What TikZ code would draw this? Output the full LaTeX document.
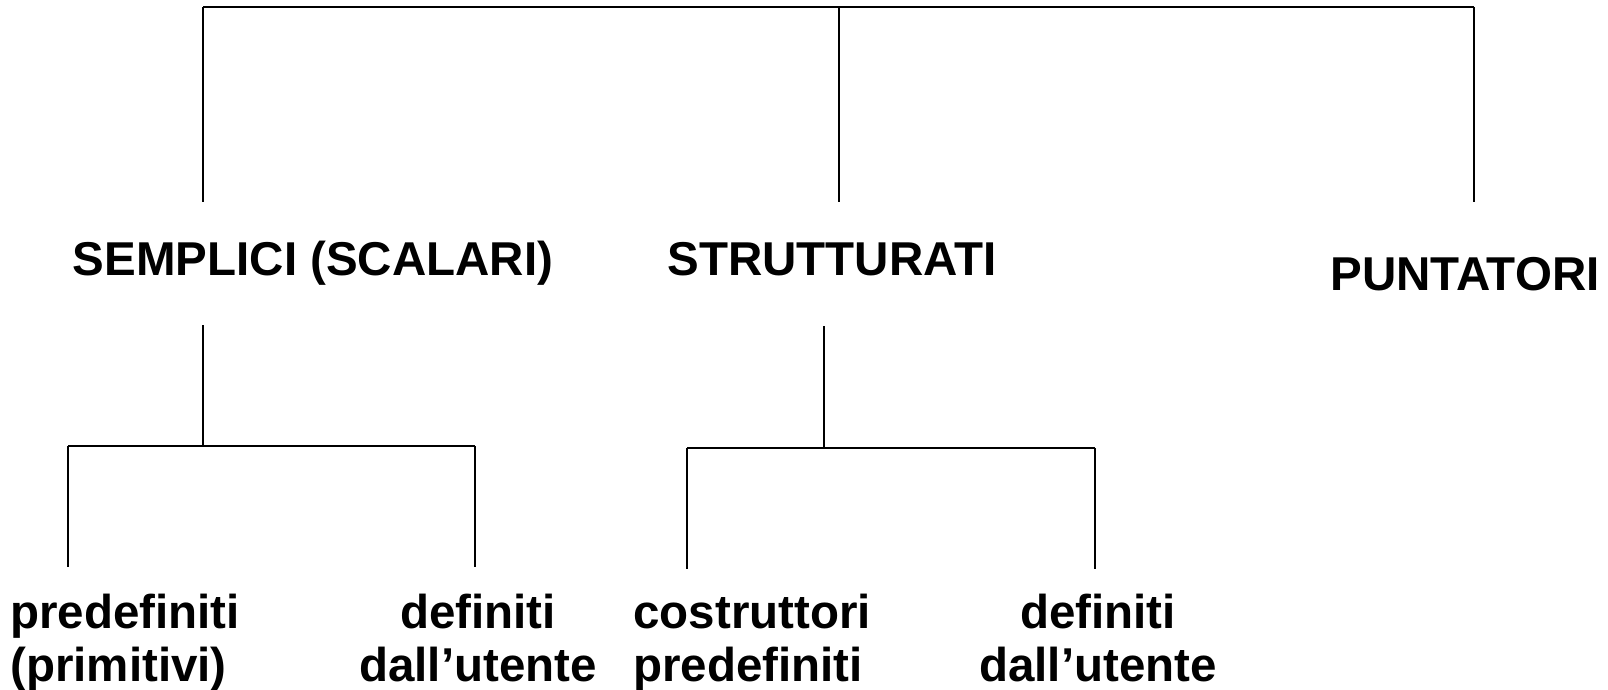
\documentclass[tikz,border=0pt]{standalone}
\usepackage{fontspec}
\setmainfont{Liberation Sans}
\usetikzlibrary{positioning}

\begin{document}
\begin{tikzpicture}[x=0.5pt,y=-0.5pt,
    label/.style={font=\bfseries\fontsize{23.75}{26.5}\selectfont,inner sep=0pt},
    stem/.style={line width=0.65pt},
    bar/.style={line width=1pt}]
    \useasboundingbox (0,0) rectangle (1608,690);

    % the three kinds of types
    \node[label,anchor=base] (semplici) at (313,275) {SEMPLICI (SCALARI)};
    \node[label,anchor=base] (strutturati) at (832,275) {STRUTTURATI};
    \node[label,anchor=base] (puntatori) at (1465,290) {PUNTATORI};

    % the sub kinds (base is the last line)
    \node[label,anchor=base west,align=left] (predef) at (10,681) {predefiniti\\(primitivi)};
    \node[label,anchor=base,align=center] (utente-s) at (478,681) {definiti\\dall’utente};
    \node[label,anchor=base west,align=left] (costr) at (633,681) {costruttori\\predefiniti};
    \node[label,anchor=base,align=center] (utente-t) at (1098,681) {definiti\\dall’utente};

    % the main tree
    \foreach \c/\x in {l/203,m/839,r/1474} {
      \coordinate (top-\c) at (\x,7);
      \coordinate (foot-\c) at (\x,202);
      \draw[stem] (top-\c) -- (foot-\c);
    }
    \draw[bar] (top-l) -- (top-r);

    % the two sub trees
    \foreach \n/\x/\xl/\xr/\ya/\yb in {s/203/68/475/325/446, t/824/687/1095/326/448} {
      \coordinate (\n-stem) at (\x,\ya);
      \coordinate (\n-join) at (\x,\yb);
      \coordinate (\n-l) at (\xl,\yb);
      \coordinate (\n-r) at (\xr,\yb);
      \draw[stem] (\n-stem) -- (\n-join);
      \draw[bar] (\n-l) -- (\n-r);
      \draw[stem] (\n-l) -- ++(0,121);
      \draw[stem] (\n-r) -- ++(0,121);
    }
\end{tikzpicture}
\end{document}
